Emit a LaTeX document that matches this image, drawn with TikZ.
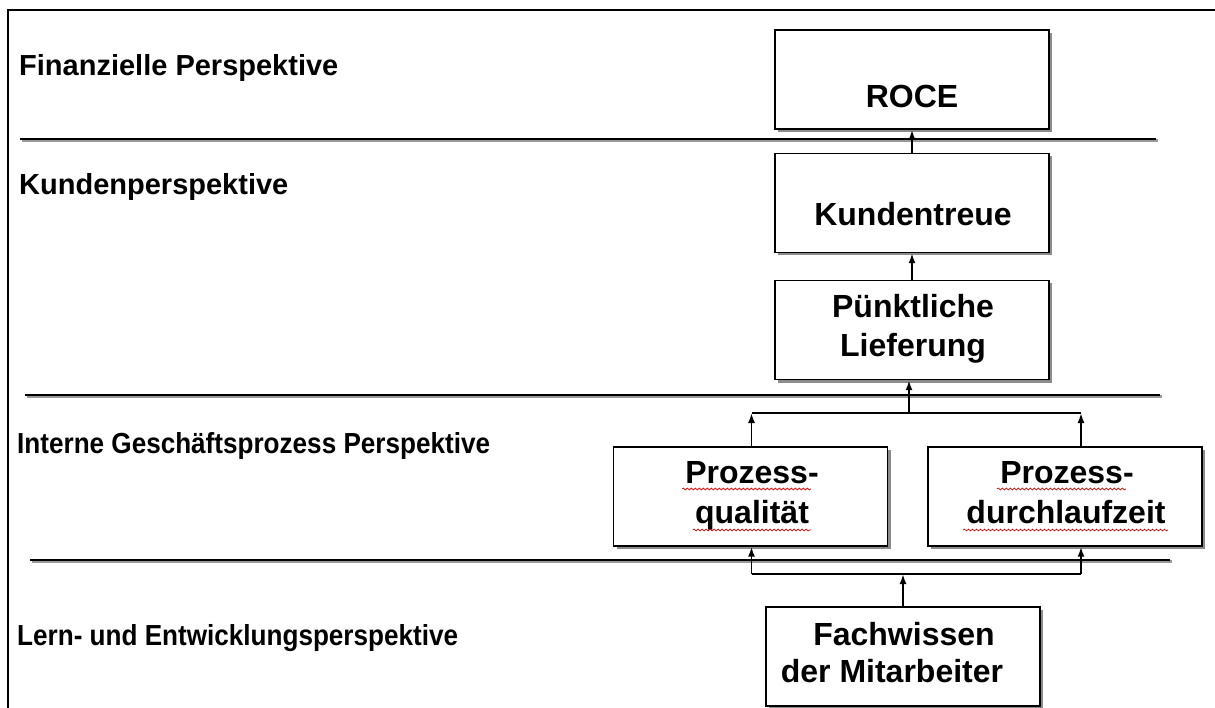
\documentclass[tikz,border=0pt]{standalone}
\usepackage{fontspec}
\setmainfont{Liberation Sans}
\newfontfamily\narrowsans{Liberation Sans}[FakeStretch=0.9]
\usetikzlibrary{arrows.meta,shadows,calc,decorations.pathmorphing}

\tikzset{
  box/.style={draw=black, line width=1.4pt, fill=white,
    minimum width=274pt, minimum height=99pt, inner sep=0pt,
    drop shadow={shadow xshift=3pt, shadow yshift=-3pt, fill=black!45, opacity=1}},
  boxtext/.style={font=\fontsize{32}{38}\selectfont\bfseries, inner sep=0pt, anchor=base},
  persp/.style={font=\fontsize{29}{34}\selectfont\bfseries, inner sep=0pt, anchor=base west},
  narrowpersp/.style={persp, font=\fontsize{29}{34}\selectfont\narrowsans\bfseries},
  divider/.style={line width=2.8pt},
  dividershade/.style={line width=2.6pt, black!40},
  conn/.style={line width=1.9pt, -{Latex[length=10pt,width=7pt]}},
  wire/.style={line width=1.5pt},
  squiggle/.style={draw=red!85!black, line width=0.7pt, decorate,
    decoration={snake, amplitude=0.9pt, segment length=4pt}},
}

\begin{document}
\begin{tikzpicture}[x=1pt,y=-1pt]
  \useasboundingbox (0,0) rectangle (1215,708);
  \fill[white] (0,0) rectangle (1215,708);

  % frame (top and left edges)
  \draw[line width=2pt] (8,708) -- (8,10) -- (1215,10);

  % perspective dividers
  \foreach \y/\xa/\xb in {139/20/1156, 395/25/1160, 560/30/1170} {
    \draw[dividershade] (\xa+1.5,\y+1.5) -- (\xb+1.5,\y+1.5);
    \draw[divider] (\xa,\y) -- (\xb,\y);
  }

  % perspective titles
  \node[persp] (p-fin)  at (19,76)  {Finanzielle Perspektive};
  \node[persp] (p-kun)  at (19,195) {Kundenperspektive};
  \node[narrowpersp] (p-int)  at (17,453) {Interne Geschäftsprozess Perspektive};
  \node[narrowpersp] (p-lern) at (17,645) {Lern- und Entwicklungsperspektive};

  % measure boxes
  \node[box] (roce)   at (912,79.5)    {};
  \node[box] (treue)  at (912,203)     {};
  \node[box] (liefer) at (912,330)     {};
  \node[box] (pq)     at (750.5,496.5) {};
  \node[box] (pd)     at (1065,496.5)  {};
  \node[box] (fach)   at (903,656.5)   {};

  % box captions
  \node[boxtext] (t-roce)   at (912,108) {ROCE};
  \node[boxtext] (t-treue)  at (913,226) {Kundentreue};
  \node[boxtext] (t-lief1)  at (913,318) {Pünktliche};
  \node[boxtext] (t-lief2)  at (913,357) {Lieferung};
  \node[boxtext] (t-pq1)    at (752,483) {Prozess-};
  \node[boxtext] (t-pq2)    at (752,523) {qualität};
  \node[boxtext] (t-pd1)    at (1067,483) {Prozess-};
  \node[boxtext] (t-pd2)    at (1066,523) {durchlaufzeit};
  \node[boxtext] (t-fach1)  at (904,645) {Fachwissen};
  \node[boxtext] (t-fach2)  at (892,682) {der Mitarbeiter};

  % spell-check underlines
  \draw[squiggle] ($(t-pq1.base west)+(-3,6)$) -- ($(t-pq1.base east)+(-8,6)$);
  \draw[squiggle] ($(t-pq2.base west)+(-2,7)$) -- ($(t-pq2.base east)+(2,7)$);
  \draw[squiggle] ($(t-pd1.base west)+(-3,6)$) -- ($(t-pd1.base east)+(-8,6)$);
  \draw[squiggle] ($(t-pd2.base west)+(-3,7)$) -- ($(t-pd2.base east)+(2,7)$);

  % junction points of the branching connectors
  \coordinate (jup) at (909,413);
  \coordinate (jlo) at (903,574);
  \coordinate (pdtop) at ($(pd.north)+(16,0)$);
  \coordinate (pdbot) at ($(pd.south)+(16,0)$);
  \coordinate (pqtop) at ($(pq.north)+(1,0)$);
  \coordinate (pqbot) at ($(pq.south)+(1,0)$);

  % customer chain
  \draw[conn] (treue.north) -- (roce.south);
  \draw[conn] (liefer.north) -- (treue.south);
  \draw[conn] (jup) -- (jup |- liefer.south);

  % process boxes feed the upper junction
  \draw[wire] (pqtop |- jup) -- (pdtop |- jup);
  \draw[conn] (pqtop) -- (pqtop |- jup);
  \draw[conn] (pdtop) -- (pdtop |- jup);

  % learning box feeds both process boxes
  \draw[wire] (pqbot |- jlo) -- (pdbot |- jlo);
  \draw[conn] (fach.north) -- (jlo);
  \draw[conn] (pqbot |- jlo) -- (pqbot);
  \draw[conn] (pdbot |- jlo) -- (pdbot);
\end{tikzpicture}
\end{document}
